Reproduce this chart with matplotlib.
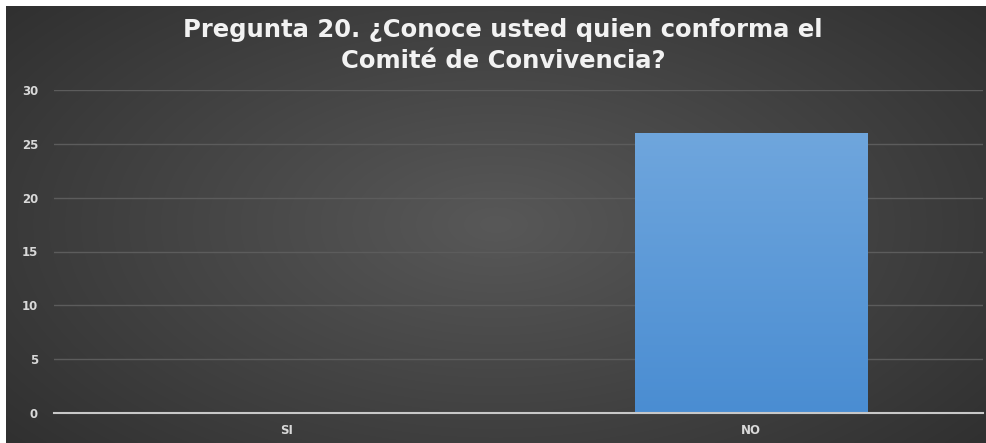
import numpy as np
import matplotlib
matplotlib.use("Agg")
import matplotlib.pyplot as plt

categories = ["SI", "NO"]
values = [0, 26]
yticks = [0, 5, 10, 15, 20, 25, 30]
title_lines = ["Pregunta 20. ¿Conoce usted quien conforma el", "Comité de Convivencia?"]

W, H = 987, 443
fig = plt.figure(figsize=(W / 100, H / 100), dpi=100)
fig.patch.set_facecolor("white")

# dark background panel with radial gradient
bg = fig.add_axes([6 / W, 0, (W - 7) / W, (H - 6) / H])
bg.set_axis_off()
yy, xx = np.mgrid[0:1:300j, 0:1:600j]
r = np.sqrt(((xx - 0.5) / 0.75) ** 2 + ((yy - 0.5) / 0.9) ** 2)
r = np.clip(r, 0, 1)
c0 = np.array([0x58, 0x58, 0x58]) / 255
c1 = np.array([0x2a, 0x2a, 0x2a]) / 255
img = c0[None, None, :] * (1 - r[..., None]) + c1[None, None, :] * r[..., None]
bg.imshow(img, aspect="auto", extent=[0, 1, 0, 1], interpolation="bilinear")
bg.set_xlim(0, 1)
bg.set_ylim(0, 1)

left, right = 54 / W, 983 / W
bottom, top = 1 - 413 / H, 1 - 90 / H
ax = fig.add_axes([left, bottom, right - left, top - bottom])
ax.set_facecolor("none")
x = np.arange(len(categories))
bars = ax.bar(x, values, width=0.5, color="#5b9bd5", zorder=3)
cmap = matplotlib.colors.LinearSegmentedColormap.from_list("g", ["#4a8dd2", "#6fa6dd"])
for b in bars:
    if b.get_height() <= 0:
        continue
    grad = np.linspace(0, 1, 256)[:, None]
    im = ax.imshow(grad, cmap=cmap, aspect="auto", origin="lower",
                   extent=[b.get_x(), b.get_x() + b.get_width(), 0, b.get_height()], zorder=3)
    im.set_clip_path(b)
ax.set_xlim(-0.5, 1.5)
ax.set_ylim(0, 30)
ax.set_yticks(yticks)
ax.set_xticks(x)
ax.set_xticklabels(categories)
ax.grid(axis="y", color="#5c5c5c", linewidth=1.0, zorder=0)
for s in ["top", "right", "left"]:
    ax.spines[s].set_visible(False)
ax.spines["bottom"].set_color("#c8c8c8")
ax.spines["bottom"].set_linewidth(1.5)
ax.spines["bottom"].set_zorder(4)
ax.tick_params(axis="both", length=0, colors="#d9d9d9", labelsize=8.5)
for lab in ax.get_xticklabels() + ax.get_yticklabels():
    lab.set_fontweight("bold")
ax.tick_params(axis="y", pad=11.5)
ax.tick_params(axis="x", pad=8)

for i, line in enumerate(title_lines):
    fig.text(503 / W, 1 - (28 + 30 * i) / H, line, ha="center", va="center_baseline",
             color="#f2f2f2", fontsize=17.5, fontweight="bold", family="DejaVu Sans")

fig.savefig("out.png", dpi=100, facecolor=fig.get_facecolor())
